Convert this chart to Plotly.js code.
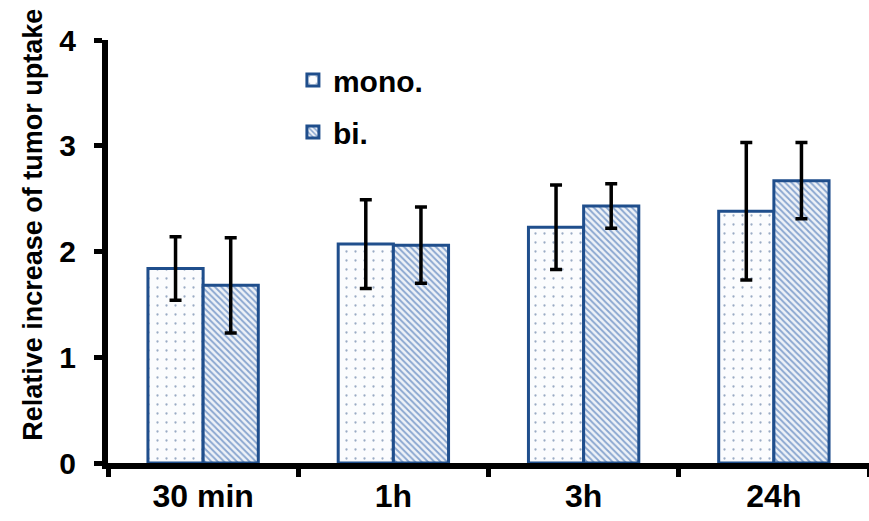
<!DOCTYPE html>
<html><head><meta charset="utf-8">
<script src="https://cdn.plot.ly/plotly-3.0.1.min.js"></script>
<style>html,body{margin:0;padding:0;background:#fff}</style>
</head><body>
<div id="chart" style="width:869px;height:521px"></div>
<script>
const categories = ["30 min", "1h", "3h", "24h"];
const monoValues = [1.84, 2.07, 2.23, 2.38];
const monoErrors = [0.30, 0.42, 0.40, 0.65];
const biValues = [1.68, 2.06, 2.43, 2.67];
const biErrors = [0.45, 0.36, 0.21, 0.36];
const seriesNames = ["mono.", "bi."];
const yTitle = "Relative increase of tumor uptake";

const edge = "#1f4e8c";
const fontFam = "'Liberation Sans', Arial, sans-serif";

const traces = [
  {type: "bar", name: seriesNames[0], legendgroup: "a", x: categories, y: monoValues,
   error_y: {type: "data", array: monoErrors, visible: true, color: "#000", thickness: 3.5, width: 6},
   marker: {color: "#ffffff", line: {color: edge, width: 3},
            pattern: {shape: ".", fgcolor: "#9aabc4", bgcolor: "#fbfcfe", size: 9, solidity: 0.05}}},
  {type: "bar", name: seriesNames[1], legendgroup: "b", x: categories, y: biValues,
   error_y: {type: "data", array: biErrors, visible: true, color: "#000", thickness: 3.5, width: 6},
   marker: {color: "#ffffff", line: {color: edge, width: 3},
            pattern: {shape: "\\", fgcolor: "#88a5cf", bgcolor: "#eef2f8", size: 4.5, solidity: 0.4}}}
];

const layout = {
  width: 869, height: 521,
  margin: {l: 108, r: 0, t: 40, b: 58},
  paper_bgcolor: "#fff", plot_bgcolor: "#fff",
  barmode: "group", bargap: 0.42, bargroupgap: 0,
  font: {family: fontFam, color: "#000"},
  showlegend: true,
  legend: {x: 0.243, y: 0.967, xanchor: "left", yanchor: "top", bgcolor: "rgba(0,0,0,0)",
           font: {size: 30, family: fontFam, weight: "bold"}, tracegroupgap: 10, itemwidth: 30},
  xaxis: {type: "category", showline: true, linecolor: "#000", linewidth: 6,
          ticks: "outside", tickson: "boundaries", ticklen: 8, tickwidth: 5, tickcolor: "#000",
          tickfont: {size: 32, family: fontFam, weight: "bold"}, showgrid: false, zeroline: false},
  yaxis: {range: [0, 4], dtick: 1, showline: true, linecolor: "#000", linewidth: 6,
          ticks: "outside", ticklen: 8, tickwidth: 5, tickcolor: "#000", ticklabelstandoff: 12,
          tickfont: {size: 30, family: fontFam, weight: "bold"}, showgrid: false, zeroline: false},
  annotations: [{text: yTitle, textangle: -90, xref: "paper", yref: "paper",
                 x: -0.0986, y: 0.563, xanchor: "center", yanchor: "middle", showarrow: false,
                 font: {size: 27, family: fontFam, weight: "bold", color: "#000"}}]
};

Plotly.newPlot("chart", traces, layout, {displayModeBar: false});
</script>
</body></html>
